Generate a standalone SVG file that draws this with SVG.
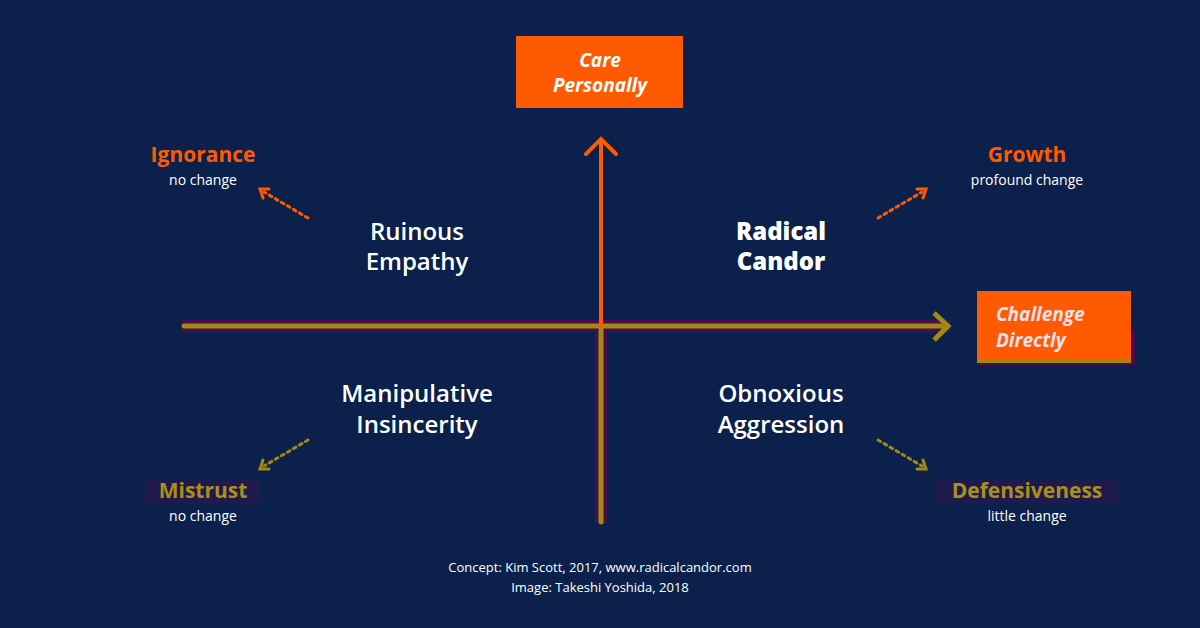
<svg xmlns="http://www.w3.org/2000/svg" width="1200" height="628" viewBox="0 0 1200 628">
<defs><style>
text{font-family:"Open Sans","Liberation Sans",sans-serif;text-anchor:middle}
.q{fill:#fff;font-size:24px;font-weight:600}
.qb{fill:#fff;font-size:24px;font-weight:800}
.o{fill:#ff5a00;font-size:21px;font-weight:700}
.y{fill:#a9901a;font-size:21px;font-weight:700}
.s{fill:#fff;font-size:14px}
.f{fill:#fff;font-size:13px}
.bx{fill:#fff;font-size:19px;font-weight:700;font-style:italic}
.bl{fill:#ffe0ec;font-size:19px;font-weight:700;font-style:italic;text-anchor:start}
</style></defs>
<rect width="1200" height="628" fill="#0b214b"/>
<g id="connectors" fill="none" stroke-linecap="round">
<rect x="182" y="320" width="768" height="12" fill="#4a0c4c" stroke="none"/>
<rect x="595" y="326" width="12" height="197" fill="#4a0c4c" stroke="none"/>
<line x1="184" y1="326" x2="946" y2="326" stroke="#a08a14" stroke-width="5"/>
<polyline points="934,313 948,326 934,340" stroke="#a08a14" stroke-width="5" stroke-linecap="butt"/>
<line x1="601" y1="326" x2="601" y2="522" stroke="#a08a14" stroke-width="5"/>
<line x1="601" y1="140" x2="601" y2="326" stroke="#ff5a00" stroke-width="4"/>
<polyline points="586,154 601,139 616,154" stroke="#ff5a00" stroke-width="4"/>
<g stroke-dasharray="3,4" stroke-width="3">
<line x1="308" y1="218" x2="264" y2="192" stroke="#ff5a00"/>
<polyline points="263,198 260,189 269,189" stroke="#ff5a00" stroke-dasharray="none"/>
<line x1="878" y1="218" x2="922" y2="192" stroke="#ff5a00"/>
<polyline points="917,189 926,189 923,198" stroke="#ff5a00" stroke-dasharray="none"/>
<line x1="308" y1="440" x2="264" y2="466" stroke="#a08a14"/>
<polyline points="263,460 260,469 269,469" stroke="#a08a14" stroke-dasharray="none"/>
<line x1="878" y1="440" x2="922" y2="466" stroke="#a08a14"/>
<polyline points="917,469 926,469 923,460" stroke="#a08a14" stroke-dasharray="none"/>
</g>
</g>
<g id="care"><rect x="516" y="36" width="167" height="72" fill="#ff5a00"/>
<text class="bx" x="600" y="67">Care</text><text class="bx" x="600" y="92">Personally</text></g>
<g id="challenge"><rect x="977" y="330" width="158" height="35" fill="#4a0c4c"/>
<rect x="977" y="291" width="154" height="72" fill="#ff5a00"/>
<rect x="977" y="359" width="154" height="4" fill="#a08a14"/>
<text class="bl" x="996" y="321">Challenge</text>
<text class="bl" x="996" y="347">Directly</text></g>
<g id="ruinous"><text class="q" x="417" y="240">Ruinous</text><text class="q" x="417" y="270">Empathy</text></g>
<g id="radical"><text class="qb" x="781" y="240">Radical</text><text class="qb" x="781" y="270">Candor</text></g>
<g id="manipulative"><text class="q" x="417" y="402">Manipulative</text><text class="q" x="417" y="433">Insincerity</text></g>
<g id="obnoxious"><text class="q" x="781" y="402">Obnoxious</text><text class="q" x="781" y="433">Aggression</text></g>
<g id="ignorance"><text class="o" x="203" y="162">Ignorance</text><text class="s" x="203" y="185">no change</text></g>
<g id="growth"><text class="o" x="1027" y="162">Growth</text><text class="s" x="1027" y="185">profound change</text></g>
<g id="mistrust"><rect x="145" y="479" width="115" height="24" fill="#1f1a4c"/><text class="y" x="203" y="498">Mistrust</text><text class="s" x="203" y="521">no change</text></g>
<g id="defensiveness"><rect x="935" y="479" width="182" height="24" fill="#1f1a4c"/><text class="y" x="1027" y="498">Defensiveness</text><text class="s" x="1027" y="521">little change</text></g>
<g id="credits"><text class="f" x="600" y="572">Concept: Kim Scott, 2017, www.radicalcandor.com</text><text class="f" x="600" y="592">Image: Takeshi Yoshida, 2018</text></g>
</svg>
